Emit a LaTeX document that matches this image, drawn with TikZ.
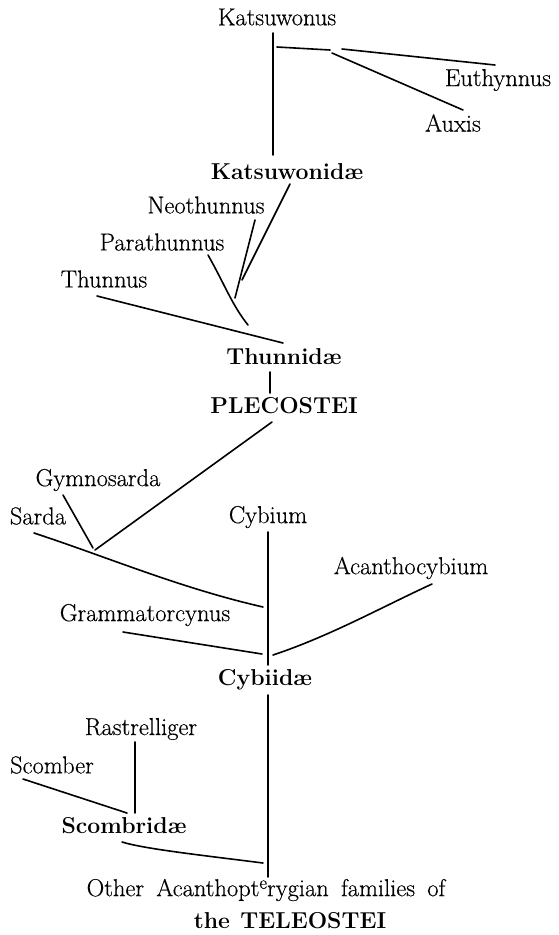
\documentclass[tikz,border=0pt]{standalone}
\usepackage{fontspec}
\newfontfamily\rmheavy{Latin Modern Roman}[FakeBold=0.4]
\begin{document}
\begin{tikzpicture}[x=1pt,y=-1pt,
  lbl/.style={inner sep=0pt,font=\rmheavy\fontsize{24.5}{29}\selectfont},
  fam/.style={inner sep=0pt,font=\fontsize{23}{27}\selectfont\bfseries},
  br/.style={line width=1.6pt,line cap=round}]
\useasboundingbox (0,0) rectangle (558,935);
% labels
\node[lbl] (katsuwonus) at (277,17) {Katsuwonus};
\node[lbl] (euthynnus) at (498,80) {Euthynnus};
\node[lbl] (auxis) at (453,123) {Auxis};
\node[fam] (katsuwonidae) at (287,172) {Katsuwonidæ};
\node[lbl] (neothunnus) at (206,205) {Neothunnus};
\node[lbl] (parathunnus) at (162,242) {Parathunnus};
\node[lbl] (thunnus) at (104,279) {Thunnus};
\node[fam] (thunnidae) at (284,357) {Thunnidæ};
\node[fam] (plecostei) at (284,406) {PLECOSTEI};
\node[lbl] (gymnosarda) at (98,480) {Gymnosarda};
\node[lbl] (sarda) at (38,516) {Sarda};
\node[lbl] (cybium) at (268,517) {Cybium};
\node[lbl] (acanthocybium) at (411,568) {Acanthocybium};
\node[lbl] (grammatorcynus) at (145,615) {Grammatorcynus};
\node[fam] (cybiidae) at (265,680) {Cybiidæ};
\node[lbl] (rastrelliger) at (141,729) {Rastrelliger};
\node[lbl] (scomber) at (52,765) {Scomber};
\node[fam] (scombridae) at (124,826) {Scombridæ};
\node[lbl] (other) at (266,890) {Other\hspace{0.5em}Acanthopt\raisebox{0.3em}{\fontsize{19}{19}\selectfont e}rygian\hspace{0.5em}families\hspace{0.5em}of};
\node[fam] (teleostei) at (290,921) {the\hspace{0.45em}TELEOSTEI};
% junction / end coordinates
\coordinate (k1) at (273,33);
\coordinate (k2) at (273,155);
\coordinate (h1) at (277,47);
\coordinate (h2) at (330,50);
\coordinate (e1) at (342,49);
\coordinate (e2) at (495,65);
\coordinate (a1) at (332,53);
\coordinate (a2) at (463,110);
\coordinate (kd1) at (290,184);
\coordinate (kd2) at (242,280);
\coordinate (n1) at (255,220);
\coordinate (n2) at (235,298);
\coordinate (p1) at (208,255);
\coordinate (p2) at (248,325);
\coordinate (t1) at (97,296);
\coordinate (t2) at (283,343);
\coordinate (tp1) at (270,372);
\coordinate (tp2) at (270,393);
\coordinate (pl1) at (272,422);
\coordinate (pl2) at (95,550);
\coordinate (g1) at (63,495);
\coordinate (g2) at (93,548);
\coordinate (s1) at (34,533);
\coordinate (s2) at (263,607);
\coordinate (c1) at (268,532);
\coordinate (c2) at (268,665);
\coordinate (gr1) at (123,632);
\coordinate (gr2) at (262,654);
\coordinate (ac1) at (432,584);
\coordinate (ac2) at (273,655);
\coordinate (cy1) at (268,695);
\coordinate (cy2) at (268,877);
\coordinate (r1) at (135,742);
\coordinate (r2) at (135,813);
\coordinate (sc1) at (23,779);
\coordinate (sc2) at (127,813);
\coordinate (sb1) at (122,842);
\coordinate (sb2) at (263,863);
% branches
\draw[br] (k1) -- (k2);
\draw[br] (h1) -- (h2);
\draw[br] (e1) -- (e2);
\draw[br] (a1) -- (a2);
\draw[br] (kd1) -- (kd2);
\draw[br] (n1) -- (n2);
\draw[br] (p1) .. controls (225,285) and (232,305) .. (p2);
\draw[br] (t1) -- (t2);
\draw[br] (tp1) -- (tp2);
\draw[br] (pl1) -- (pl2);
\draw[br] (g1) -- (g2);
\draw[br] (s1) .. controls (110,558) and (180,588) .. (s2);
\draw[br] (c1) -- (c2);
\draw[br] (gr1) -- (gr2);
\draw[br] (ac1) .. controls (380,608) and (330,636) .. (ac2);
\draw[br] (cy1) -- (cy2);
\draw[br] (r1) -- (r2);
\draw[br] (sc1) -- (sc2);
\draw[br] (sb1) .. controls (145,849) and (200,855) .. (sb2);
\end{tikzpicture}
\end{document}
